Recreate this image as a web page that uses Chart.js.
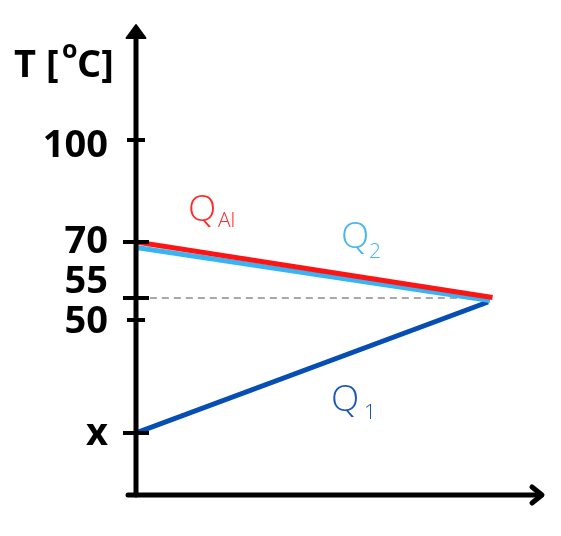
<!DOCTYPE html>
<html>
<head>
<meta charset="utf-8">
<script src="https://cdn.jsdelivr.net/npm/chart.js@4/dist/chart.umd.min.js"></script>
<style>
html,body{margin:0;padding:0;background:#fff;}
canvas{display:block;}
</style>
</head>
<body>
<canvas id="c" width="561" height="536"></canvas>
<script>
// Schematic temperature levels (positions on the schematic axis) and their labels
const levelLabels = ['100', '70', '55', '50', 'x'];
const levelValues = [355, 253, 197, 175, 62];
// Time points (schematic) and series values
const qAlTime = [0, 87.6];
const qAl = [253, 197.5];
const q2Time = [0, 87];
const q2 = [247.5, 194.5];
const q1Time = [0, 86.5];
const q1 = [62, 193];
const dashTime = [3.4, 87];
const dashLevel = [197, 197];

// styling (not data)
const levelLabelDy = [17, 11, -5, 13, 12];
const levelTickHalf = [9, 13, 13, 9, 13];

function pts(xs, ys) { return xs.map((x, i) => ({ x: x, y: ys[i] })); }

const axisPlugin = {
  id: 'axisPlugin',
  afterDatasetsDraw(chart) {
    const ctx = chart.ctx;
    const xs = chart.scales.x, ys = chart.scales.y;
    const ax = xs.getPixelForValue(0);
    const ay = ys.getPixelForValue(0);
    const top = ys.getPixelForValue(470);
    const right = xs.getPixelForValue(100);
    ctx.save();
    ctx.strokeStyle = '#000';
    ctx.fillStyle = '#000';
    ctx.lineCap = 'round';
    ctx.lineJoin = 'round';
    ctx.lineWidth = 5;
    // y axis
    ctx.beginPath();
    ctx.moveTo(ax, ay);
    ctx.lineTo(ax, top + 12);
    ctx.stroke();
    ctx.beginPath();
    ctx.moveTo(ax, top);
    ctx.lineTo(ax + 9.5, top + 13);
    ctx.lineTo(ax - 9.5, top + 13);
    ctx.closePath();
    ctx.lineWidth = 2;
    ctx.stroke();
    ctx.fill();
    // x axis
    ctx.lineWidth = 5;
    ctx.beginPath();
    ctx.moveTo(ax - 8, ay);
    ctx.lineTo(right - 2, ay);
    ctx.stroke();
    ctx.beginPath();
    ctx.moveTo(right - 11, ay - 8);
    ctx.lineTo(right - 1, ay);
    ctx.lineTo(right - 11, ay + 8);
    ctx.stroke();
    // ticks and labels
    ctx.lineCap = 'butt';
    ctx.lineWidth = 4;
    ctx.font = 'bold 38px "Open Sans", "DejaVu Sans", sans-serif';
    ctx.textAlign = 'right';
    ctx.textBaseline = 'alphabetic';
    levelValues.forEach((v, i) => {
      const py = ys.getPixelForValue(v);
      const h = levelTickHalf[i];
      ctx.beginPath();
      ctx.moveTo(ax - h, py);
      ctx.lineTo(ax + h, py);
      ctx.stroke();
      ctx.fillText(levelLabels[i], 108, py + levelLabelDy[i]);
    });
    // axis title T [°C]
    ctx.textAlign = 'left';
    ctx.font = 'bold 38px "Open Sans", "DejaVu Sans", sans-serif';
    ctx.fillText('T [', 14, 77);
    ctx.font = 'bold 25px "Open Sans", "DejaVu Sans", sans-serif';
    ctx.fillText('o', 62, 58);
    ctx.font = 'bold 38px "Open Sans", "DejaVu Sans", sans-serif';
    ctx.fillText('C]', 77, 77);
    // series annotations
    function qlabel(sub, x, y, sx, sy, color) {
      ctx.fillStyle = color;
      ctx.font = '300 37px "Open Sans", sans-serif';
      ctx.fillText('Q', x, y);
      ctx.font = '300 21px "Open Sans", sans-serif';
      ctx.fillText(sub, sx, sy);
    }
    qlabel('Al', 188, 221, 218, 227, '#ff2a2a');
    qlabel('2', 341, 248, 369, 258, '#45b6f0');
    qlabel('1', 331, 411, 364, 419, '#1a56b8');
    ctx.restore();
  }
};

new Chart(document.getElementById('c'), {
  type: 'line',
  data: {
    datasets: [
      { label: 'Q_Al', data: pts(qAlTime, qAl), borderColor: '#ff1414', borderWidth: 5, pointRadius: 0, order: 1 },
      { label: 'Q_2', data: pts(q2Time, q2), borderColor: '#38b4f4', borderWidth: 5, pointRadius: 0, order: 2 },
      { label: 'Q_1', data: pts(q1Time, q1), borderColor: '#064db4', borderWidth: 5, pointRadius: 0, order: 3 },
      { label: '55', data: pts(dashTime, dashLevel), borderColor: '#a8a8a8', borderWidth: 2, borderDash: [7, 5], pointRadius: 0, order: 4 }
    ]
  },
  options: {
    responsive: false,
    animation: false,
    layout: { padding: { left: 136, right: 18, top: 25, bottom: 41 } },
    plugins: { legend: { display: false }, tooltip: { enabled: false } },
    scales: {
      x: { type: 'linear', min: 0, max: 100, display: false },
      y: { type: 'linear', min: 0, max: 470, display: false }
    }
  },
  plugins: [axisPlugin]
});
</script>
</body>
</html>
